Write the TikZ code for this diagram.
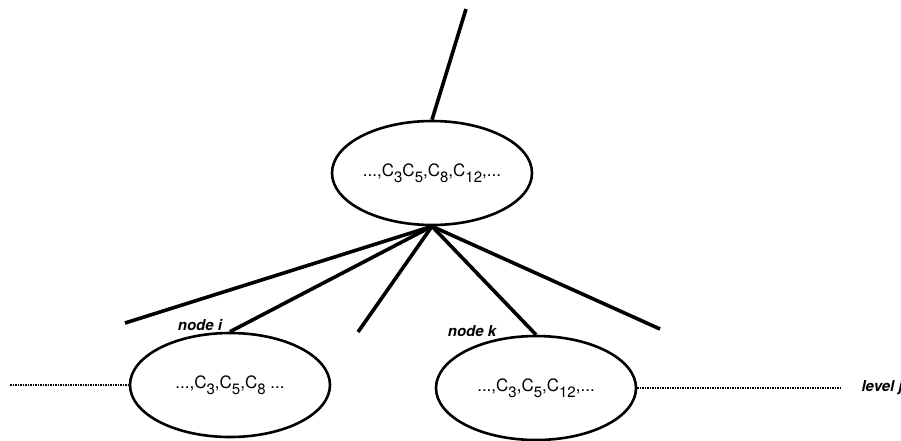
\documentclass[tikz,border=0pt]{standalone}
\usepackage{fontspec}
\setmainfont{TeX Gyre Heros}
\usetikzlibrary{shapes.geometric}
\newcommand{\csub}[1]{\raisebox{-0.38em}{\fontsize{15}{15}\selectfont #1}}
\begin{document}
\begin{tikzpicture}[x=1pt,y=-1pt,
  cnode/.style={draw,ellipse,line width=2.6pt,inner sep=0pt,minimum width=200pt,minimum height=104pt,font=\fontsize{17}{20}\selectfont},
  edge/.style={line width=3.6pt},
  level/.style={line width=1.5pt,densely dotted},
  tag/.style={font=\fontsize{15}{17}\selectfont\bfseries\itshape}]
\useasboundingbox (0,0) rectangle (901,440);
\draw (432,173) node[cnode](top) {...,C\csub{3}C\csub{5},C\csub{8},C\csub{12},...};
\draw (230,385) node[cnode](ni) {...,C\csub{3},C\csub{5},C\csub{8} ...};
\draw (536,388) node[cnode](nk) {...,C\csub{3},C\csub{5},C\csub{12},...};
\coordinate (t) at (466,9);
\coordinate (e1) at (125,323);
\coordinate (e3) at (358,332);
\coordinate (e5) at (660,329);
\coordinate (l) at (10,385);
\coordinate (r) at (842,388);
\draw[edge] (t) -- (top.north);
\draw[edge] (top.south) -- (e1);
\draw[edge] (top.south) -- (ni.north);
\draw[edge] (top.south) -- (e3);
\draw[edge] (top.south) -- (nk.north);
\draw[edge] (top.south) -- (e5);
\draw[level] (l) -- (ni.west);
\draw[level] (nk.east) -- (r);
\draw (200,325) node[tag](ti) {node i};
\draw (472,331) node[tag](tk) {node k};
\draw (858,388) node[tag,anchor=west](tj) {level j};
\end{tikzpicture}
\end{document}
